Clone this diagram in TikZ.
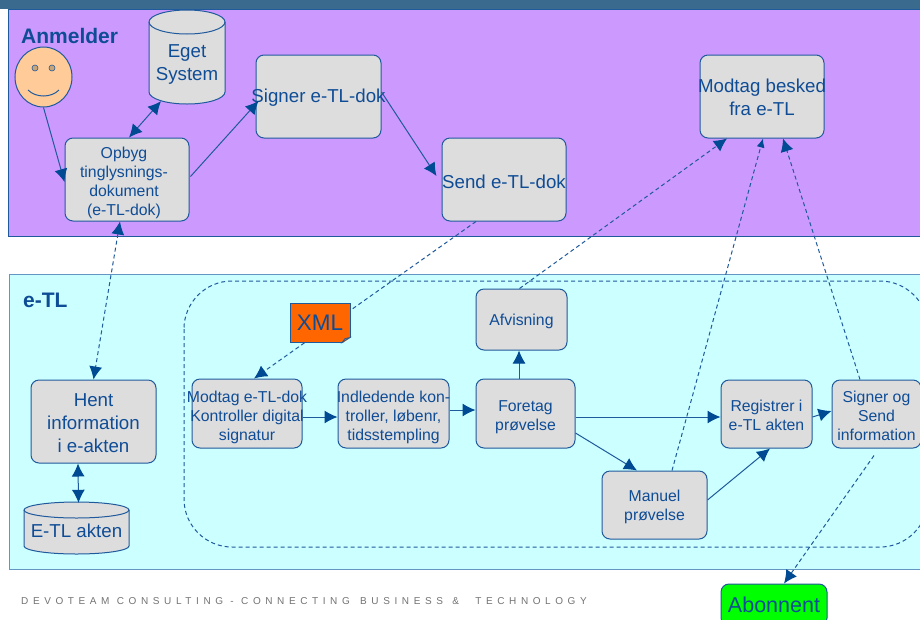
\documentclass[tikz,border=0pt]{standalone}
\usepackage{fontspec}
\setmainfont{Liberation Sans}
\usetikzlibrary{arrows.meta,shapes.geometric}
\definecolor{ink}{HTML}{0F4C96}
\definecolor{edge}{HTML}{1F5A9C}
\definecolor{tipc}{HTML}{004A94}
\definecolor{fillgrey}{HTML}{DDDDDD}
\newcommand\lift[1]{\rule{0pt}{#1pt}}
\newcommand\pad{\kern6pt}
\tikzset{
  boxn/.style={draw=edge,fill=fillgrey,rounded corners=8pt,line width=1pt,inner ysep=0pt,inner xsep=-20pt,align=center,text=ink,font=\fontsize{15.8}{19}\selectfont},
  big/.style={font=\fontsize{18.7}{23}\selectfont},
  cyltext/.style={inner sep=0pt,align=center,text=ink,font=\fontsize{18.7}{23}\selectfont},
  cylbody/.style={draw=edge,fill=fillgrey,line width=1pt},
  conn/.style={draw=edge,line width=1pt,-{Latex[length=13pt,width=13pt,color=tipc]}},
  smalltip/.style={draw=edge,line width=1pt,-{Latex[length=9pt,width=8pt,color=tipc]}},
  both/.style={draw=edge,line width=1pt,{Latex[length=13pt,width=13pt,color=tipc]}-{Latex[length=13pt,width=13pt,color=tipc]}},
  dashc/.style={dash pattern=on 4pt off 3pt},
  title/.style={text=ink,font=\fontsize{21}{22}\selectfont\bfseries,inner sep=0pt}
}
\begin{document}
\begin{tikzpicture}[x=1pt,y=-1pt]
\useasboundingbox (0,0) rectangle (920,619);
\clip (0,0) rectangle (920,619);
\fill[white] (0,0) rectangle (920,619);
\fill[color={rgb,255:red,59;green,106;blue,143}] (0,0) rectangle (920,9);
\draw[edge,fill={rgb,255:red,204;green,153;blue,255},line width=1pt] (8.5,9) rectangle (930,236);
\draw[color={rgb,255:red,100;green,150;blue,195},fill={rgb,255:red,204;green,255;blue,255},line width=1pt] (9,274.5) rectangle (930,569);
\draw[edge,dashc,line width=1pt,rounded corners=48pt] (184,281) rectangle (928,547);
\node[title,anchor=west] (anm) at (21,36) {Anmelder};
\node[title,anchor=west] (etl) at (23,300) {e-TL};
% face
\node[draw=edge,fill={rgb,255:red,255;green,204;blue,153},ellipse,line width=1pt,minimum width=57pt,minimum height=60pt,inner sep=0pt] (face) at (43.5,77) {};
\node[draw=edge,fill={rgb,255:red,200;green,165;blue,120},circle,minimum size=6pt,inner sep=0pt,line width=.6pt] (eyeL) at (35,68) {};
\node[draw=edge,fill={rgb,255:red,200;green,165;blue,120},circle,minimum size=6pt,inner sep=0pt,line width=.6pt] (eyeR) at (52,68) {};
\draw[edge,line width=1pt] (28,90) .. controls (36,98) and (51,98) .. (59,90);
% cylinders, drawn as paths under their text nodes
\path[cylbody] (149,22) -- (149,92) arc[start angle=180,end angle=360,x radius=38pt,y radius=12pt] -- (225,22) arc[start angle=0,end angle=180,x radius=38pt,y radius=12pt] -- cycle;
\draw[cylbody,fill=none] (149,22) arc[start angle=180,end angle=360,x radius=38pt,y radius=12pt];
\path[cylbody] (24,510) -- (24,546) arc[start angle=180,end angle=360,x radius=52.5pt,y radius=8pt] -- (129,510) arc[start angle=0,end angle=180,x radius=52.5pt,y radius=8pt] -- cycle;
\draw[cylbody,fill=none] (24,510) arc[start angle=180,end angle=360,x radius=52.5pt,y radius=8pt];
% Anmelder nodes
\node[boxn,minimum width=124pt,minimum height=83pt] (opbyg) at (127,179.5) {\lift{17.5}Opbyg\pad\\tinglysnings-\pad\\dokument\pad\\(e-TL-dok)\pad};
\node[cyltext,minimum width=76pt,minimum height=79pt] (eget) at (187,64.5) {Eget\\System};
\node[boxn,big,minimum width=125pt,minimum height=83pt] (signer) at (318.5,96.5) {\lift{15.7}Signer e-TL-dok};
\node[boxn,big,minimum width=124pt,minimum height=83pt] (send) at (504,179.5) {\lift{17.7}Send e-TL-dok};
\node[boxn,big,minimum width=124pt,minimum height=83pt] (besked) at (762,96.5) {\lift{15.7}Modtag besked\\fra e-TL};
% e-TL nodes
\node[boxn,big,minimum width=125pt,minimum height=83pt] (hent) at (93.5,421.5) {\lift{15.7}Hent\\information\\i e-akten};
\node[cyltext,minimum width=105pt,minimum height=52pt] (akten) at (76.5,528) {\lift{20}E-TL akten};
\node[boxn,minimum width=110pt,minimum height=69pt] (modtag) at (247,413.5) {\lift{19.5}Modtag e-TL-dok\\Kontroller digital\\signatur};
\node[boxn,minimum width=111pt,minimum height=69pt] (indl) at (393.5,413.5) {\lift{19.5}Indledende kon-\\troller, løbenr,\\tidsstempling};
\node[boxn,minimum width=99pt,minimum height=69pt] (foretag) at (525.5,413.5) {\lift{17.5}Foretag\\prøvelse};
\node[boxn,minimum width=91pt,minimum height=61pt] (afvis) at (521.5,319.5) {\lift{15.5}Afvisning};
\node[boxn,minimum width=91pt,minimum height=68pt] (regi) at (766.5,414) {\lift{13.5}Registrer i\\e-TL akten};
\node[boxn,minimum width=89pt,minimum height=68pt] (signog) at (876.5,414) {\lift{15.5}Signer og\\Send\\information};
\node[boxn,minimum width=105pt,minimum height=68pt] (manuel) at (654.5,505) {\lift{15.5}Manuel\\prøvelse};
\node[boxn,fill={rgb,255:red,0;green,255;blue,0},font=\fontsize{21.5}{23}\selectfont,minimum width=106pt,minimum height=42pt] (abon) at (774,605) {Abonnent};
% connectors
\draw[conn] (face.south) -- ([yshift=-2.5pt]opbyg.west);
\draw[both] ([xshift=-26pt,yshift=3pt]eget.south) -- ([xshift=2pt]opbyg.north);
\draw[conn] ([xshift=1pt,yshift=3pt]opbyg.east) -- ([xshift=3pt,yshift=-4.5pt]signer.west);
\draw[conn] ([yshift=4.5pt]signer.east) -- ([xshift=-5pt,yshift=3.5pt]send.west);
\draw[both,dashc] ([xshift=-7pt]opbyg.south) -- (hent.north);
\draw[conn,dashc] ([xshift=-28pt]send.south) -- ([xshift=7pt]modtag.north);
\draw[conn,dashc] ([xshift=-2pt]afvis.north) -- ([xshift=-35pt]besked.south);
\draw[smalltip,dashc] ([xshift=17.5pt]manuel.north) -- ([xshift=1pt]besked.south);
\draw[conn,dashc] ([xshift=-16.5pt]signog.north) -- ([xshift=21pt]besked.south);
\draw[conn,dashc] ([xshift=-2.5pt,yshift=-7pt]signog.south) -- ([xshift=10pt]abon.north);
\draw[conn] ([yshift=-3.5pt]modtag.east) -- ([yshift=-3.5pt]indl.west);
\draw[conn] ([yshift=3.5pt]indl.east) -- ([yshift=3.5pt]foretag.west);
\draw[conn] ([xshift=-6.5pt]foretag.north) -- ([xshift=-2.5pt]afvis.south);
\draw[conn] ([yshift=-3.5pt]foretag.east) -- ([yshift=-3pt]regi.west);
\draw[conn] ([yshift=-19.5pt]foretag.east) -- ([xshift=-17.5pt]manuel.north);
\draw[conn] ([yshift=5pt]manuel.east) -- ([xshift=3.5pt]regi.south);
\draw[conn] ([yshift=-3pt]regi.east) -- ([yshift=3pt]signog.west);
\draw[both] ([xshift=-15.5pt]hent.south) -- ([xshift=2pt,yshift=-1pt]akten.north);
% XML note on top
\node[draw=edge,fill={rgb,255:red,255;green,102;blue,0},line width=1pt,minimum width=60pt,minimum height=39pt,inner sep=0pt,text=ink,font=\fontsize{22.5}{24}\selectfont] (xml) at (320,322.5) {XML};
\fill[fill={rgb,255:red,204;green,255;blue,255}] (351,343.5) -- (351,337.5) -- (342,343.5) -- cycle;
\filldraw[fill={rgb,255:red,205;green,110;blue,40},draw=edge,line width=.7pt] (342,342.5) -- (345,338.5) -- (350,337.5) -- cycle;
\node[anchor=west,inner sep=0pt,text=black!55,font=\fontsize{10}{11}\addfontfeature{LetterSpace=46}\selectfont] (foot) at (21,601) {DEVOTEAM CONSULTING - CONNECTING\hspace{3pt} BUSINESS\hspace{2pt} \&\hspace{9pt} TECHNOLOGY};
\end{tikzpicture}
\end{document}
